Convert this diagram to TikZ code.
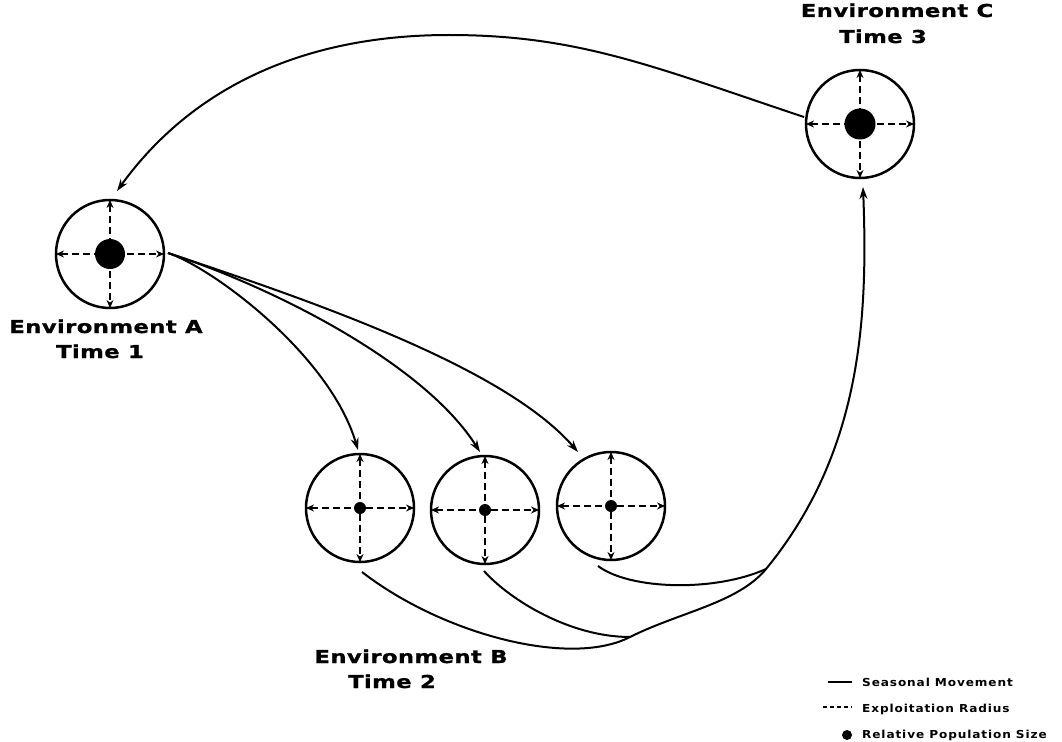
\documentclass[tikz,border=0pt]{standalone}
\usepackage{fontspec}
\usetikzlibrary{arrows.meta,calc}
\newfontfamily\labfont[FakeStretch=1.28,LetterSpace=2,FakeBold=1]{DejaVu Sans}
\newfontfamily\legfont[FakeStretch=1.1,LetterSpace=8]{DejaVu Sans}
\begin{document}
\begin{tikzpicture}[x=1pt,y=-1pt,
  env/.style={circle,draw,line width=2.5pt,minimum size=108pt,inner sep=0pt,outer sep=0pt},
  pop/.style={circle,fill=black,inner sep=0pt,outer sep=0pt},
  rad/.style={dash pattern=on 7pt off 4pt,line width=1.8pt,{Stealth[length=8pt,width=7pt]}-{Stealth[length=8pt,width=7pt]}},
  move/.style={line width=2pt,-{Stealth[length=12pt,width=8pt]}},
  link/.style={line width=2pt},
  big/.style={font=\labfont\bfseries\fontsize{17.8}{20}\selectfont, inner sep=0pt, anchor=base},
  leg/.style={font=\legfont\bfseries\fontsize{11}{13}\selectfont, inner sep=0pt, anchor=base west}]
\useasboundingbox (0,0) rectangle (1062,741);
% environments
\node[env] (A) at (110,254) {};
\node[env] (C) at (860,124) {};
\node[env] (B1) at (360,508) {};
\node[env] (B2) at (485,510) {};
\node[env] (B3) at (611,506) {};
\foreach \n in {A,B1,B2,B3,C}{
  \draw[rad] (\n.west) -- (\n.east);
  \draw[rad] (\n.north) -- (\n.south);
}
\node[pop,minimum size=30pt] (Apop) at (A.center) {};
\node[pop,minimum size=31pt] (Cpop) at (C.center) {};
\node[pop,minimum size=12pt] (B1pop) at (B1.center) {};
\node[pop,minimum size=12pt] (B2pop) at (B2.center) {};
\node[pop,minimum size=12pt] (B3pop) at (B3.center) {};
% movement coordinates
\coordinate (aout) at (168,253);
\coordinate (b1in) at (358,450);
\coordinate (b2in) at (480,452);
\coordinate (b3in) at (578,452);
\coordinate (cout) at (804,117);
\coordinate (ctop) at (449,35);
\coordinate (ain) at (117,191);
\coordinate (b1out) at (362,572);
\coordinate (b2out) at (484,571);
\coordinate (b3out) at (598,566);
\coordinate (j1) at (630,637);
\coordinate (j2) at (766,569);
\coordinate (cin) at (863,187);
% A -> B
\draw[move] (aout) .. controls (213,268) and (330,355) .. (b1in);
\draw[move] (aout) .. controls (278,289) and (425,365) .. (b2in);
\draw[move] (aout) .. controls (318,303) and (505,368) .. (b3in);
% C -> A
\draw[move] (cout) .. controls (654,67) and (579,35) .. (ctop) .. controls (300,35) and (190,90) .. (ain);
% B -> C
\draw[link] (b1out) .. controls (442,634) and (570,668) .. (j1);
\draw[link] (b2out) .. controls (510,600) and (570,637) .. (j1);
\draw[link] (b3out) .. controls (630,590) and (715,592) .. (j2);
\draw[move] (j1) .. controls (680,612) and (738,603) .. (j2) .. controls (862,452) and (868,317) .. (cin);
% labels
\node[big] (labA1) at (106,333) {Environment A};
\node[big] (labA2) at (100,358) {Time 1};
\node[big] (labB1) at (411,663) {Environment B};
\node[big] (labB2) at (392,688) {Time 2};
\node[big] (labC1) at (897,17) {Environment C};
\node[big] (labC2) at (883,43) {Time 3};
% legend
\coordinate (l1a) at (828,682); \coordinate (l1b) at (852,682);
\coordinate (l2a) at (823,707); \coordinate (l2b) at (852,707);
\draw[line width=1.4pt] (l1a) -- (l1b);
\draw[line width=1.4pt,dash pattern=on 4pt off 3pt] (l2a) -- (l2b);
\node[pop,minimum size=10pt] (legdot) at (847,735) {};
\node[leg] (leg1) at (862,686) {Seasonal Movement};
\node[leg] (leg2) at (862,712) {Exploitation Radius};
\node[leg] (leg3) at (862,738) {Relative Population Size};
\end{tikzpicture}
\end{document}
